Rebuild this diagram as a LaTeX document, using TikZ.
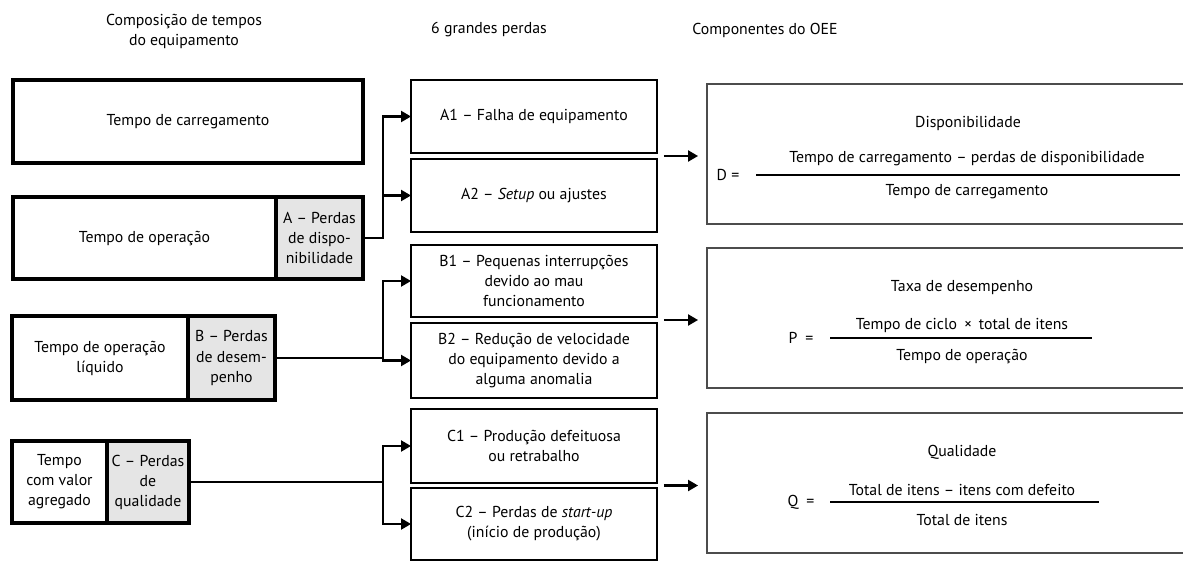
\documentclass[tikz,border=0pt]{standalone}
\usepackage{fontspec}
\setmainfont{PT Sans}
\usetikzlibrary{positioning,calc,arrows.meta}

\begin{document}
\begin{tikzpicture}[x=0.02cm,y=-0.02cm,font=\fontsize{9}{11.4}\selectfont,
    every node/.style={align=center,inner sep=1pt,outer sep=0pt},
    tempo/.style={draw,line width=2.2pt,minimum height=1.64cm},
    perda/.style={tempo,fill=black!10},
    causa/.style={draw,line width=1.1pt,minimum width=4.92cm},
    indice/.style={draw=black!70,line width=1.2pt,minimum width=9.86cm,minimum height=2.8cm},
    seta/.style={line width=1.2pt,-{Triangle[length=0.2cm,width=0.22cm]}},
    barra/.style={line width=0.9pt}]
  \clip (0,0) rectangle (1183,561);
  \node (h1) at (184,31) {Composição de tempos\\do equipamento};
  \node (h2) at (489,30) {6 grandes perdas};
  \node (h3) at (765,30) {Componentes do OEE};
  \node[tempo,minimum width=7cm,minimum height=1.66cm] (carga) at (188,121.5) {Tempo de carregamento};
  \node[tempo,minimum width=5.26cm] (oper) at (144.5,238) {Tempo de operação};
  \node[perda,minimum width=1.74cm,right=0pt of oper] (pa) {A – Perdas\\de dispo-\\nibilidade};
  \node[tempo,minimum width=3.52cm,minimum height=1.68cm] (liq) at (100,358) {Tempo de operação\\líquido};
  \node[perda,minimum width=1.74cm,minimum height=1.68cm,right=0pt of liq] (pb) {B – Perdas\\de desem-\\penho};
  \node[tempo,minimum width=1.9cm] (agr) at (59.5,482) {Tempo\\com valor\\agregado};
  \node[perda,minimum width=1.64cm,right=0pt of agr] (pc) {C – Perdas\\de\\qualidade};
  \node[causa,minimum height=1.46cm] (a1) at (534,116.5) {A1 – Falha de equipamento};
  \node[causa,minimum height=1.46cm] (a2) at (534,195.5) {A2 – \emph{Setup} ou ajustes};
  \node[causa,minimum height=1.44cm] (b1) at (534,281) {B1 – Pequenas interrupções\\devido ao mau\\funcionamento};
  \node[causa,minimum height=1.5cm] (b2) at (534,360.5) {B2 – Redução de velocidade\\do equipamento devido a\\alguma anomalia};
  \node[causa,minimum height=1.48cm] (c1) at (534,446) {C1 – Produção defeituosa\\ou retrabalho};
  \node[causa,minimum height=1.44cm] (c2) at (534,524) {C2 – Perdas de \emph{start-up}\\(início de produção)};
  \node[indice] (disp) at (953.5,154) {};
  \node[indice] (desemp) at (953.5,318) {};
  \node[indice] (qual) at (953.5,483) {};
  \node (tdisp) at (968,123) {Disponibilidade};
  \node (ndisp) at (967,159) {Tempo de carregamento – perdas de disponibilidade};
  \node (ddisp) at (967,192) {Tempo de carregamento};
  \node (eqd) at (728,175) {D =};
  \draw[barra] (756,175) -- (1180,175);
  \node (tdesemp) at (962,288) {Taxa de desempenho};
  \node (ndesemp) at (962,325) {Tempo de ciclo \,×\, total de itens};
  \node (ddesemp) at (962,356) {Tempo de operação};
  \node (eqp) at (801,338) {P\enspace=};
  \draw[barra,line width=1.5pt] (830,338) -- (1092,338);
  \node (tqual) at (962,452) {Qualidade};
  \node (nqual) at (962,490) {Total de itens – itens com defeito};
  \node (dqual) at (962,520) {Total de itens};
  \node (eqq) at (801,502) {Q\enspace=};
  \draw[barra,line width=0.8pt] (830,502) -- (1099,502);
  \coordinate (junta) at (383,0);
  \draw[seta] (pa.east) -| (junta |- a1.west) -- (a1.west);
  \draw[seta] (pa.east) -| (junta |- a2.west) -- (a2.west);
  \draw[seta] (pb.east) -| (junta |- b1.west) -- (b1.west);
  \draw[seta] (pb.east) -| (junta |- b2.west) -- (b2.west);
  \draw[seta] (pc.east) -| (junta |- c1.west) -- (c1.west);
  \draw[seta] (pc.east) -| (junta |- c2.west) -- (c2.west);
  \coordinate (sa) at ($(a1.south east)!0.5!(a2.north east)$);
  \coordinate (sb) at ($(b1.south east)!0.5!(b2.north east)$);
  \coordinate (sc) at ($(c1.south east)!0.5!(c2.north east)$);
  \draw[seta,shorten <=0.14cm,shorten >=0.18cm] (sa) -- (sa -| disp.west);
  \draw[seta,shorten <=0.14cm,shorten >=0.18cm] (sb) -- (sb -| desemp.west);
  \draw[seta,shorten <=0.14cm,shorten >=0.18cm] (sc) -- (sc -| qual.west);
\end{tikzpicture}
\end{document}
